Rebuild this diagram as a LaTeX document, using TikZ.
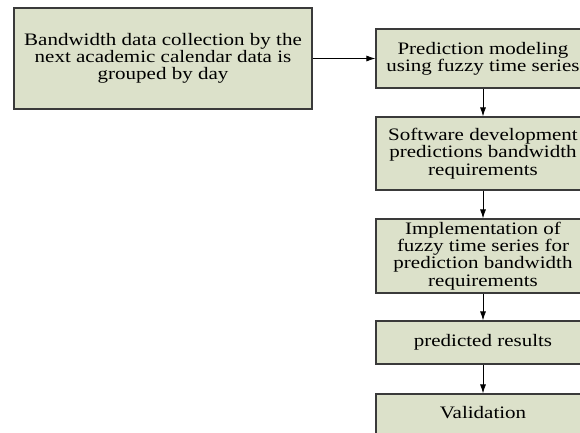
\documentclass[tikz,border=0pt]{standalone}
\usepackage{fontspec}
\setmainfont{Liberation Serif}
\newfontfamily\wideserif[FakeStretch=1.2]{Liberation Serif}
\usetikzlibrary{arrows.meta}
\definecolor{boxfill}{HTML}{DCE1CA}
\definecolor{boxline}{HTML}{3A3A3A}
\tikzset{
  flowbox/.style={draw=boxline, line width=1.2pt, fill=boxfill, align=center,
    font=\wideserif\fontsize{17.5}{17.2}\selectfont, inner sep=0pt},
  flowarrow/.style={draw=black, line width=0.8pt, -{Latex[length=9pt,width=6pt]}}
}
\begin{document}
\begin{tikzpicture}[x=1pt,y=-1pt]
\useasboundingbox (0,0) rectangle (580,432);
\clip (0,0) rectangle (580,432);
\node[flowbox, minimum width=298pt, minimum height=101pt] (collect) at (163,58.5)
  {Bandwidth data collection by the\\next academic calendar data is\\grouped by day};
\node[flowbox, minimum width=214pt, minimum height=59pt] (model) at (483,58.5)
  {Prediction modeling\\using fuzzy time series};
\node[flowbox, minimum width=214pt, minimum height=73pt] (soft) at (483,153.5)
  {Software development\\predictions bandwidth\\requirements};
\node[flowbox, minimum width=214pt, minimum height=74pt] (impl) at (483,256)
  {Implementation of\\fuzzy time series for\\prediction bandwidth\\requirements};
\node[flowbox, minimum width=214pt, minimum height=43pt] (pred) at (483,342.5)
  {predicted results};
\node[flowbox, minimum width=214pt, minimum height=46pt] (valid) at (483,417)
  {\raisebox{0pt}[0pt][0pt]{\smash{\raisebox{-1pt}{Validation}}}};
\draw[flowarrow] (collect.east) -- (model.west);
\draw[flowarrow] (model.south) -- (soft.north);
\draw[flowarrow] (soft.south) -- (impl.north);
\draw[flowarrow] (impl.south) -- (pred.north);
\draw[flowarrow] (pred.south) -- (valid.north);
\end{tikzpicture}
\end{document}
